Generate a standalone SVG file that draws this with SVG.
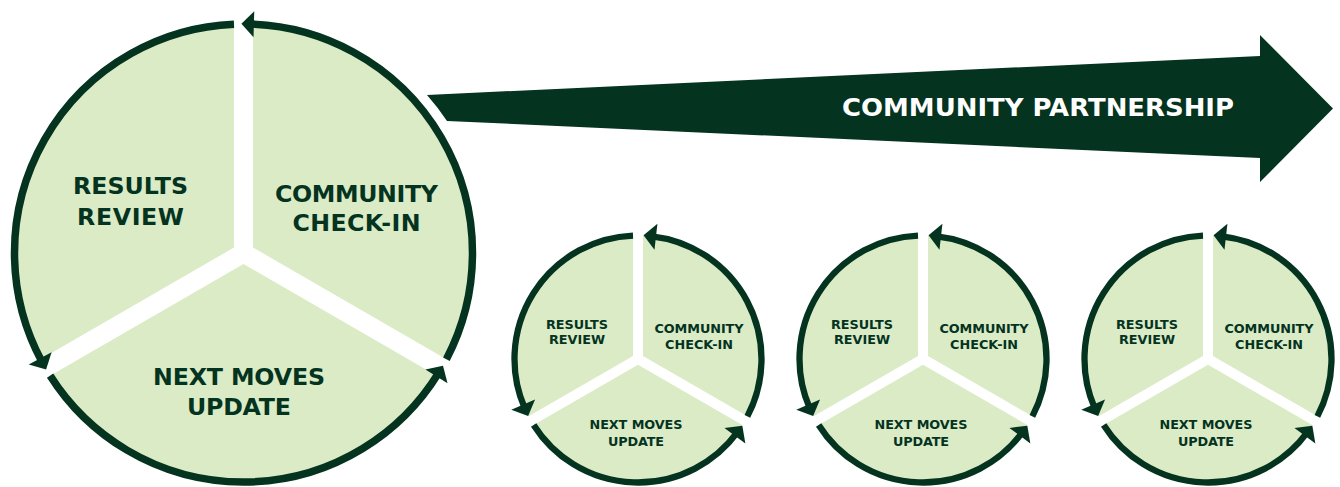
<svg xmlns="http://www.w3.org/2000/svg" width="1340" height="487" viewBox="0 0 1340 487">
  <style>
    .sector { fill: #dbebc6; }
    .ring { fill: none; stroke: #04331f; stroke-width: 7.5; marker-end: url(#head); }
    .ring-s { stroke-width: 6.3; }
    .lbl { font-family: "DejaVu Sans", "Liberation Sans", sans-serif; font-weight: bold; fill: #04331f; text-anchor: middle; }
    .lbl-l { font-size: 23.7px; }
    .lbl-s { font-size: 12.8px; }
    .banner { fill: #04331f; }
    .banner-text { font-family: "DejaVu Sans", "Liberation Sans", sans-serif; font-weight: bold; font-size: 24.3px; fill: #ffffff; text-anchor: middle; }
  </style>
  <defs>
    <!-- arrowhead shared by every cycle arc -->
    <marker id="head" markerUnits="userSpaceOnUse" viewBox="0 0 13 26" markerWidth="13" markerHeight="26" refX="4" refY="13" orient="auto" overflow="visible">
      <path d="M0,0 L12.5,13 L0,26 Z" fill="#04331f"/>
    </marker>
  </defs>

  <!-- long arrow to the right -->
  <g id="community-partnership">
    <path class="banner" d="M427 95 L1260 56 L1260 35 L1333 108.5 L1260 182 L1260 158 L447 121 A242.5 242.5 0 0 0 427 95 Z"/>
    <text class="banner-text" x="1038" y="116" textLength="392" lengthAdjust="spacingAndGlyphs">COMMUNITY PARTNERSHIP</text>
  </g>

  <!-- large cycle -->
  <g id="cycle-main" transform="translate(243.5 253)">
    <g id="main-results-review">
      <path class="sector" d="M-9.5 -5.485 L-202.899 106.174 A229 229 0 0 1 -9.5 -228.803 Z"/>
      <text class="lbl lbl-l" x="-113" y="-59" textLength="115">RESULTS</text>
      <text class="lbl lbl-l" x="-113" y="-28" textLength="107">REVIEW</text>
    </g>
    <g id="main-community-check-in">
      <path class="sector" d="M9.5 -5.485 L9.5 -228.803 A229 229 0 0 1 202.899 106.174 Z"/>
      <text class="lbl lbl-l" x="113" y="-51" textLength="163">COMMUNITY</text>
      <text class="lbl lbl-l" x="113" y="-22" textLength="128">CHECK-IN</text>
    </g>
    <g id="main-next-moves-update">
      <path class="sector" d="M0 10.97 L193.399 122.628 A229 229 0 0 1 -193.399 122.628 Z"/>
      <text class="lbl lbl-l" x="-4.5" y="132" textLength="172">NEXT MOVES</text>
      <text class="lbl lbl-l" x="-4.5" y="162" textLength="104">UPDATE</text>
    </g>
    <g id="main-connectors">
      <path class="ring" d="M202.899 106.174 A229 229 0 0 0 6.39 -228.91"/>
      <path class="ring" transform="rotate(120)" d="M202.899 106.174 A229 229 0 0 0 6.39 -228.91"/>
      <path class="ring" transform="rotate(240)" d="M202.899 106.174 A229 229 0 0 0 6.39 -228.91"/>
    </g>
  </g>

  <!-- small cycle 1 -->
  <g id="cycle-1" transform="translate(638 359)">
    <g id="c1-results-review">
      <path class="sector" d="M-5 -2.887 L-109.364 57.37 A123.5 123.5 0 0 1 -5 -123.399 Z"/>
      <text class="lbl lbl-s" x="-61" y="-30.5" textLength="62">RESULTS</text>
      <text class="lbl lbl-s" x="-61" y="-15" textLength="56">REVIEW</text>
    </g>
    <g id="c1-community-check-in">
      <path class="sector" d="M5 -2.887 L5 -123.399 A123.5 123.5 0 0 1 109.364 57.37 Z"/>
      <text class="lbl lbl-s" x="61" y="-26" textLength="89">COMMUNITY</text>
      <text class="lbl lbl-s" x="61" y="-10" textLength="68">CHECK-IN</text>
    </g>
    <g id="c1-next-moves-update">
      <path class="sector" d="M0 5.774 L104.364 66.03 A123.5 123.5 0 0 1 -104.364 66.03 Z"/>
      <text class="lbl lbl-s" x="-2" y="70" textLength="93">NEXT MOVES</text>
      <text class="lbl lbl-s" x="-2" y="87" textLength="56">UPDATE</text>
    </g>
    <g id="c1-connectors">
      <path class="ring ring-s" d="M109.364 57.37 A123.5 123.5 0 0 0 13.98 -122.71"/>
      <path class="ring ring-s" transform="rotate(120)" d="M109.364 57.37 A123.5 123.5 0 0 0 13.98 -122.71"/>
      <path class="ring ring-s" transform="rotate(240)" d="M109.364 57.37 A123.5 123.5 0 0 0 13.98 -122.71"/>
    </g>
  </g>

  <!-- small cycle 2 -->
  <g id="cycle-2" transform="translate(923 359)">
    <g id="c2-results-review">
      <path class="sector" d="M-5 -2.887 L-109.364 57.37 A123.5 123.5 0 0 1 -5 -123.399 Z"/>
      <text class="lbl lbl-s" x="-61" y="-30.5" textLength="62">RESULTS</text>
      <text class="lbl lbl-s" x="-61" y="-15" textLength="56">REVIEW</text>
    </g>
    <g id="c2-community-check-in">
      <path class="sector" d="M5 -2.887 L5 -123.399 A123.5 123.5 0 0 1 109.364 57.37 Z"/>
      <text class="lbl lbl-s" x="61" y="-26" textLength="89">COMMUNITY</text>
      <text class="lbl lbl-s" x="61" y="-10" textLength="68">CHECK-IN</text>
    </g>
    <g id="c2-next-moves-update">
      <path class="sector" d="M0 5.774 L104.364 66.03 A123.5 123.5 0 0 1 -104.364 66.03 Z"/>
      <text class="lbl lbl-s" x="-2" y="70" textLength="93">NEXT MOVES</text>
      <text class="lbl lbl-s" x="-2" y="87" textLength="56">UPDATE</text>
    </g>
    <g id="c2-connectors">
      <path class="ring ring-s" d="M109.364 57.37 A123.5 123.5 0 0 0 13.98 -122.71"/>
      <path class="ring ring-s" transform="rotate(120)" d="M109.364 57.37 A123.5 123.5 0 0 0 13.98 -122.71"/>
      <path class="ring ring-s" transform="rotate(240)" d="M109.364 57.37 A123.5 123.5 0 0 0 13.98 -122.71"/>
    </g>
  </g>

  <!-- small cycle 3 -->
  <g id="cycle-3" transform="translate(1208 359)">
    <g id="c3-results-review">
      <path class="sector" d="M-5 -2.887 L-109.364 57.37 A123.5 123.5 0 0 1 -5 -123.399 Z"/>
      <text class="lbl lbl-s" x="-61" y="-30.5" textLength="62">RESULTS</text>
      <text class="lbl lbl-s" x="-61" y="-15" textLength="56">REVIEW</text>
    </g>
    <g id="c3-community-check-in">
      <path class="sector" d="M5 -2.887 L5 -123.399 A123.5 123.5 0 0 1 109.364 57.37 Z"/>
      <text class="lbl lbl-s" x="61" y="-26" textLength="89">COMMUNITY</text>
      <text class="lbl lbl-s" x="61" y="-10" textLength="68">CHECK-IN</text>
    </g>
    <g id="c3-next-moves-update">
      <path class="sector" d="M0 5.774 L104.364 66.03 A123.5 123.5 0 0 1 -104.364 66.03 Z"/>
      <text class="lbl lbl-s" x="-2" y="70" textLength="93">NEXT MOVES</text>
      <text class="lbl lbl-s" x="-2" y="87" textLength="56">UPDATE</text>
    </g>
    <g id="c3-connectors">
      <path class="ring ring-s" d="M109.364 57.37 A123.5 123.5 0 0 0 13.98 -122.71"/>
      <path class="ring ring-s" transform="rotate(120)" d="M109.364 57.37 A123.5 123.5 0 0 0 13.98 -122.71"/>
      <path class="ring ring-s" transform="rotate(240)" d="M109.364 57.37 A123.5 123.5 0 0 0 13.98 -122.71"/>
    </g>
  </g>
</svg>
